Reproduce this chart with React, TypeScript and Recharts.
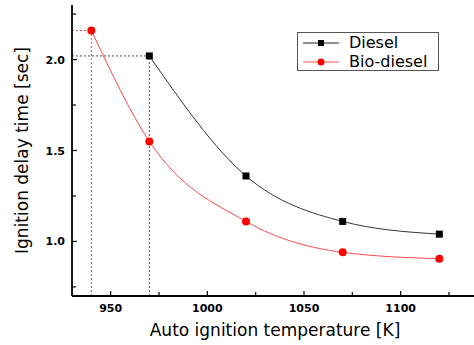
import { ComposedChart, Line, XAxis, YAxis, ReferenceLine, Legend, Label } from 'recharts';

const dieselTemp = [970, 1020, 1070, 1120];
const dieselDelay = [2.02, 1.36, 1.11, 1.04];
const bioTemp = [940, 970, 1020, 1070, 1120];
const bioDelay = [2.16, 1.55, 1.11, 0.94, 0.905];

const xTicks = [950, 975, 1000, 1025, 1050, 1075, 1100, 1125];
const yTicks = [0.75, 1.0, 1.25, 1.5, 1.75, 2.0, 2.25];

const diesel = dieselTemp.map((t, i) => ({ t, v: dieselDelay[i] }));
const bio = bioTemp.map((t, i) => ({ t, v: bioDelay[i] }));

const FONT = '"DejaVu Sans", sans-serif';
const X_MIN = 930;

const XTick = (props: any) => {
  const { x, y, payload } = props;
  const major = payload.value % 50 === 0;
  return (
    <g>
      <line x1={x} x2={x} y1={y} y2={y - (major ? 5 : 4)} stroke="#000" strokeWidth={1.2} />
      {major && (
        <text x={x} y={y + 16} textAnchor="middle" fontFamily={FONT} fontWeight="bold" fontSize={11} fill="#000">
          {payload.value}
        </text>
      )}
    </g>
  );
};

const YTick = (props: any) => {
  const { x, y, payload } = props;
  const major = Math.abs(payload.value * 2 - Math.round(payload.value * 2)) < 1e-6;
  return (
    <g>
      <line x1={x} x2={x + (major ? 5 : 4)} y1={y} y2={y} stroke="#000" strokeWidth={1.2} />
      {major && (
        <text x={x - 7} y={y + 4} textAnchor="end" fontFamily={FONT} fontWeight="bold" fontSize={11} fill="#000">
          {payload.value.toFixed(1)}
        </text>
      )}
    </g>
  );
};

// rotated y title, centred on the plot height
const YTitle = (props: any) => {
  const vb = props.viewBox || {};
  const cy = (vb.y ?? 5) + (vb.height ?? 291) / 2;
  return (
    <text
      transform={`translate(28, ${cy}) rotate(-90)`}
      textAnchor="middle"
      fontFamily={FONT}
      fontSize={17}
      fill="#000"
    >
      Ignition delay time [sec]
    </text>
  );
};

const LegendBox = () => (
  <div
    style={{
      width: 140,
      height: 37,
      border: '1px solid #555',
      background: '#fff',
      fontFamily: FONT,
      fontSize: 16,
      color: '#000',
      boxSizing: 'content-box',
    }}
  >
    <div style={{ display: 'flex', alignItems: 'center', height: 19 }}>
      <svg width={46} height={12} style={{ marginLeft: 5 }}>
        <line x1={0} x2={36} y1={6} y2={6} stroke="#222" strokeWidth={1} />
        <rect x={15} y={3} width={6} height={6} fill="#000" />
      </svg>
      <span style={{ lineHeight: '19px' }}>Diesel</span>
    </div>
    <div style={{ display: 'flex', alignItems: 'center', height: 19 }}>
      <svg width={46} height={12} style={{ marginLeft: 5 }}>
        <line x1={0} x2={36} y1={6} y2={6} stroke="#ff5050" strokeWidth={1} />
        <circle cx={18} cy={6} r={3.5} fill="#ff0000" />
      </svg>
      <span style={{ lineHeight: '19px' }}>Bio-diesel</span>
    </div>
  </div>
);

export default function App() {
  return (
    <div style={{ position: 'fixed', left: 0, top: 0, width: 474, height: 345, overflow: 'hidden', background: '#fff' }}>
      <ComposedChart width={500} height={345} margin={{ top: 5, right: 22, left: 0, bottom: 0 }}>
        <XAxis
          dataKey="t"
          type="number"
          domain={[X_MIN, 1140]}
          ticks={xTicks}
          tick={<XTick />}
          tickLine={false}
          tickSize={0}
          tickMargin={0}
          height={49}
          axisLine={{ stroke: '#000', strokeWidth: 1.8 }}
          allowDataOverflow
        >
          <Label
            value="Auto ignition temperature [K]"
            position="insideBottom"
            offset={9}
            style={{ fontFamily: FONT, fontSize: 17, fill: '#000' }}
          />
        </XAxis>
        <XAxis
          xAxisId="top"
          type="number"
          orientation="top"
          domain={[X_MIN, 1140]}
          tick={false}
          tickLine={false}
          height={0}
          axisLine={{ stroke: '#000', strokeWidth: 1.8 }}
        />
        <YAxis
          type="number"
          domain={[0.7, 2.3]}
          ticks={yTicks}
          tick={<YTick />}
          tickLine={false}
          tickSize={0}
          tickMargin={0}
          width={72}
          axisLine={{ stroke: '#000', strokeWidth: 1.8 }}
          allowDataOverflow
        >
          <Label content={<YTitle />} />
        </YAxis>

        {/* guide lines to the first point of each series */}
        <ReferenceLine
          segment={[{ x: X_MIN, y: bio[0].v }, { x: bio[0].t, y: bio[0].v }]}
          stroke="#ff4040"
          strokeDasharray="2 2"
        />
        <ReferenceLine
          segment={[{ x: bio[0].t, y: 0.7 }, { x: bio[0].t, y: bio[0].v }]}
          stroke="#ff4040"
          strokeDasharray="2 2"
        />
        <ReferenceLine
          segment={[{ x: X_MIN, y: diesel[0].v }, { x: diesel[0].t, y: diesel[0].v }]}
          stroke="#555"
          strokeDasharray="2 2"
        />
        <ReferenceLine
          segment={[{ x: diesel[0].t, y: 0.7 }, { x: diesel[0].t, y: diesel[0].v }]}
          stroke="#555"
          strokeDasharray="2 2"
        />

        <Line
          data={diesel}
          dataKey="v"
          type="monotone"
          stroke="#333"
          strokeWidth={1}
          isAnimationActive={false}
          dot={(p: any) => <rect key={`d${p.index}`} x={p.cx - 3.5} y={p.cy - 3.5} width={7} height={7} fill="#000" />}
          activeDot={false}
        />
        <Line
          data={bio}
          dataKey="v"
          type="monotone"
          stroke="#ff4a4a"
          strokeWidth={1}
          isAnimationActive={false}
          dot={{ r: 4, fill: '#ff0000', stroke: 'none' }}
          activeDot={false}
        />
        <Legend
          layout="vertical"
          verticalAlign="middle"
          align="center"
          content={<LegendBox />}
          wrapperStyle={{ position: 'absolute', left: 297, top: 32, width: 142 }}
        />
      </ComposedChart>
    </div>
  );
}
